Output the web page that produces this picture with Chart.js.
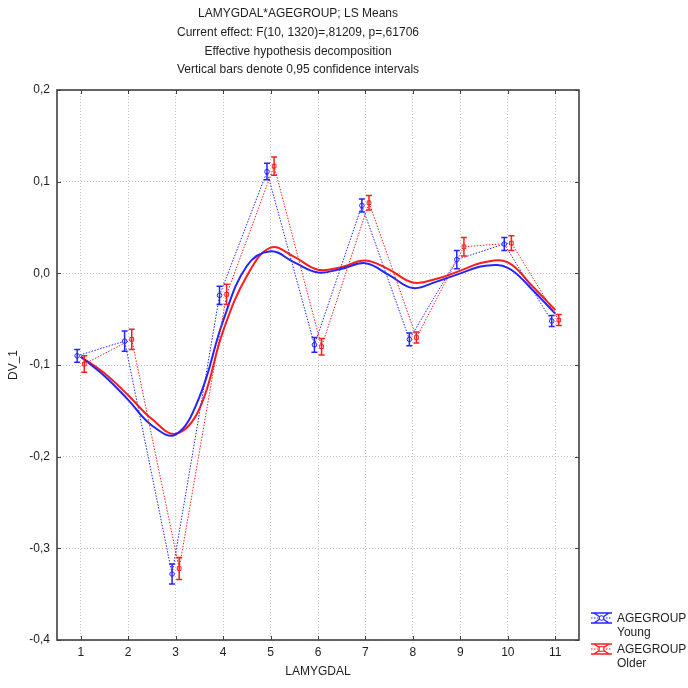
<!DOCTYPE html>
<html>
<head>
<meta charset="utf-8">
<script src="https://cdn.jsdelivr.net/npm/chart.js@4.4.1/dist/chart.umd.min.js"></script>
<style>
    html, body { margin: 0; padding: 0; background: #fff; }
    #wrap { width: 688px; height: 688px; }
</style>
</head>
<body>
<div id="wrap"><canvas id="lsMeans" width="688" height="688"></canvas></div>
<script>
// LS means per LAMYGDAL level, with 95% CI half-widths
const lamygdal = [1, 2, 3, 4, 5, 6, 7, 8, 9, 10, 11];
const youngMeans = [-0.090, -0.074, -0.328, -0.024, 0.111, -0.078, 0.074, -0.072, 0.015, 0.032, -0.052];
const youngCI    = [0.007, 0.011, 0.011, 0.010, 0.009, 0.008, 0.007, 0.007, 0.010, 0.007, 0.006];
const olderMeans = [-0.099, -0.072, -0.322, -0.023, 0.117, -0.080, 0.077, -0.070, 0.029, 0.033, -0.051];
const olderCI    = [0.009, 0.011, 0.012, 0.011, 0.010, 0.009, 0.008, 0.006, 0.010, 0.008, 0.006];

// smoothed fit, sampled every half step
const fitX      = [1, 1.5, 2, 2.5, 3, 3.5, 4, 4.5, 5, 5.5, 6, 6.5, 7, 7.5, 8, 8.5, 9, 9.5, 10, 10.5, 11];
const youngFit  = [-0.091, -0.112, -0.138, -0.166, -0.176, -0.135, -0.052, 0.008, 0.024, 0.012, 0.001, 0.005, 0.011, -0.002, -0.016, -0.009, 0.000, 0.008, 0.006, -0.017, -0.044];
const olderFit  = [-0.091, -0.109, -0.133, -0.159, -0.175, -0.148, -0.063, -0.003, 0.028, 0.018, 0.004, 0.007, 0.014, 0.004, -0.010, -0.006, 0.003, 0.012, 0.012, -0.013, -0.040];

const yTicks = [-0.4, -0.3, -0.2, -0.1, 0.0, 0.1, 0.2];
const titleLines = [
    'LAMYGDAL*AGEGROUP; LS Means',
    'Current effect: F(10, 1320)=,81209, p=,61706',
    'Effective hypothesis decomposition',
    'Vertical bars denote 0,95 confidence intervals'
];
const legendGroup = 'AGEGROUP';
const groupNames = ['Young', 'Older'];

const BLUE = 'rgb(36, 36, 255)';
const RED = 'rgb(255, 28, 28)';
const FONT = '"Liberation Sans", Arial, sans-serif';
const shift = 0.075;   // side-by-side offset of the two groups

const pts = (xs, ys, dx) => xs.map((x, i) => ({ x: x + dx, y: ys[i] }));
const commaFmt = v => (Math.abs(v) < 1e-9 ? 0 : v).toFixed(1).replace('.', ',');

// title, frame, inner tick marks, error bars and legend
const statPlot = {
    id: 'statPlot',
    afterDatasetsDraw(chart) {
        const ctx = chart.ctx;
        const { x, y } = chart.scales;
        const groups = [[youngMeans, youngCI, -shift, BLUE], [olderMeans, olderCI, shift, RED]];
        ctx.save();
        ctx.lineWidth = 1.5;
        groups.forEach(([m, ci, dx, col]) => {
            ctx.strokeStyle = col;
            m.forEach((v, i) => {
                const px = x.getPixelForValue(lamygdal[i] + dx);
                const top = y.getPixelForValue(v + ci[i]);
                const bot = y.getPixelForValue(v - ci[i]);
                ctx.beginPath();
                ctx.moveTo(px, top); ctx.lineTo(px, bot);
                ctx.moveTo(px - 3, top); ctx.lineTo(px + 3, top);
                ctx.moveTo(px - 3, bot); ctx.lineTo(px + 3, bot);
                ctx.stroke();
            });
        });
        ctx.restore();
    },
    afterDraw(chart) {
        const ctx = chart.ctx;
        const a = chart.chartArea;
        const { x, y } = chart.scales;
        ctx.save();

        // frame
        ctx.strokeStyle = '#404040';
        ctx.lineWidth = 1.6;
        ctx.strokeRect(a.left, a.top, a.right - a.left, a.bottom - a.top);

        // inner tick marks on all sides
        ctx.lineWidth = 1;
        ctx.beginPath();
        lamygdal.forEach(v => {
            const px = Math.round(x.getPixelForValue(v)) + 0.5;
            ctx.moveTo(px, a.bottom); ctx.lineTo(px, a.bottom - 4);
            ctx.moveTo(px, a.top); ctx.lineTo(px, a.top + 4);
        });
        yTicks.forEach(v => {
            const py = Math.round(y.getPixelForValue(v)) + 0.5;
            ctx.moveTo(a.left, py); ctx.lineTo(a.left + 4, py);
            ctx.moveTo(a.right, py); ctx.lineTo(a.right - 4, py);
        });
        ctx.stroke();

        // title block
        ctx.fillStyle = '#1e1e1e';
        ctx.font = '12px ' + FONT;
        ctx.textAlign = 'center';
        ctx.textBaseline = 'middle';
        titleLines.forEach((t, i) => ctx.fillText(t, 298, 14 + i * 18.6));

        // legend
        const items = [[BLUE, 'circle'], [RED, 'rect']];
        ctx.textAlign = 'left';
        items.forEach(([col, shape], i) => {
            const cy = 618 + i * 31;
            const x0 = 591, x1 = 612, cx = (x0 + x1) / 2;
            ctx.strokeStyle = col;
            ctx.lineWidth = 1.5;
            ctx.setLineDash([]);
            ctx.beginPath();
            ctx.moveTo(x0, cy - 5); ctx.lineTo(x1, cy - 5);
            ctx.moveTo(x0, cy + 5); ctx.lineTo(x1, cy + 5);
            ctx.moveTo(x0 + 3, cy - 5); ctx.lineTo(x1 - 3, cy + 5);
            ctx.moveTo(x1 - 3, cy - 5); ctx.lineTo(x0 + 3, cy + 5);
            ctx.stroke();
            ctx.lineWidth = 1;
            ctx.setLineDash([1.5, 1.5]);
            ctx.beginPath();
            ctx.moveTo(x0, cy); ctx.lineTo(x1, cy);
            ctx.stroke();
            ctx.setLineDash([]);
            ctx.fillStyle = '#fff';
            ctx.beginPath();
            if (shape === 'circle') ctx.arc(cx, cy, 2.3, 0, Math.PI * 2);
            else ctx.rect(cx - 2.3, cy - 2.3, 4.6, 4.6);
            ctx.fill(); ctx.stroke();
            ctx.fillStyle = '#1e1e1e';
            ctx.fillText(legendGroup, 617, cy + 1);
            ctx.fillText(groupNames[i], 617, cy + 15);
        });
        ctx.restore();
    }
};

const ctx = document.getElementById('lsMeans').getContext('2d');
new Chart(ctx, {
    type: 'line',
    data: {
        datasets: [{
            label: 'Young',
            data: pts(lamygdal, youngMeans, -shift),
            borderColor: BLUE,
            borderWidth: 1,
            borderDash: [1.5, 1.5],
            pointStyle: 'circle',
            pointRadius: 2.3,
            pointBorderWidth: 1,
            pointBackgroundColor: '#fff',
            pointBorderColor: BLUE,
            tension: 0
        }, {
            label: 'Older',
            data: pts(lamygdal, olderMeans, shift),
            borderColor: RED,
            borderWidth: 1,
            borderDash: [1.5, 1.5],
            pointStyle: 'rect',
            pointRadius: 2.6,
            pointBorderWidth: 1,
            pointBackgroundColor: '#fff',
            pointBorderColor: RED,
            tension: 0
        }, {
            label: 'Young fit',
            data: pts(fitX, youngFit, 0),
            borderColor: BLUE,
            borderWidth: 2,
            pointRadius: 0,
            tension: 0.4
        }, {
            label: 'Older fit',
            data: pts(fitX, olderFit, 0),
            borderColor: RED,
            borderWidth: 2,
            pointRadius: 0,
            tension: 0.4
        }]
    },
    options: {
        responsive: false,
        animation: false,
        devicePixelRatio: 1,
        layout: { padding: { top: 90, right: 109, left: 0, bottom: 0 } },
        plugins: {
            legend: { display: false },
            tooltip: { enabled: false },
            title: { display: false }
        },
        scales: {
            x: {
                type: 'linear',
                min: 0.5,
                max: 11.5,
                afterBuildTicks: s => { s.ticks = lamygdal.map(v => ({ value: v })); },
                afterFit: s => { s.height = 48; },
                ticks: { color: '#1e1e1e', font: { family: FONT, size: 12 }, padding: 5, maxRotation: 0 },
                grid: { color: '#c4c4c4', drawTicks: false },
                border: { display: false, dash: [1, 2] },
                title: { display: true, text: 'LAMYGDAL', color: '#1e1e1e', font: { family: FONT, size: 12 }, padding: { top: 0, bottom: 9 } }
            },
            y: {
                min: -0.4,
                max: 0.2,
                afterBuildTicks: s => { s.ticks = yTicks.map(v => ({ value: v })); },
                afterFit: s => { s.width = 57; },
                ticks: { color: '#1e1e1e', font: { family: FONT, size: 12 }, padding: 7, callback: commaFmt },
                grid: { color: '#c4c4c4', drawTicks: false },
                border: { display: false, dash: [1, 2] },
                title: { display: true, text: 'DV_1', color: '#1e1e1e', font: { family: FONT, size: 12 }, padding: { top: 6, bottom: 0 } }
            }
        }
    },
    plugins: [statPlot]
});
</script>
</body>
</html>
